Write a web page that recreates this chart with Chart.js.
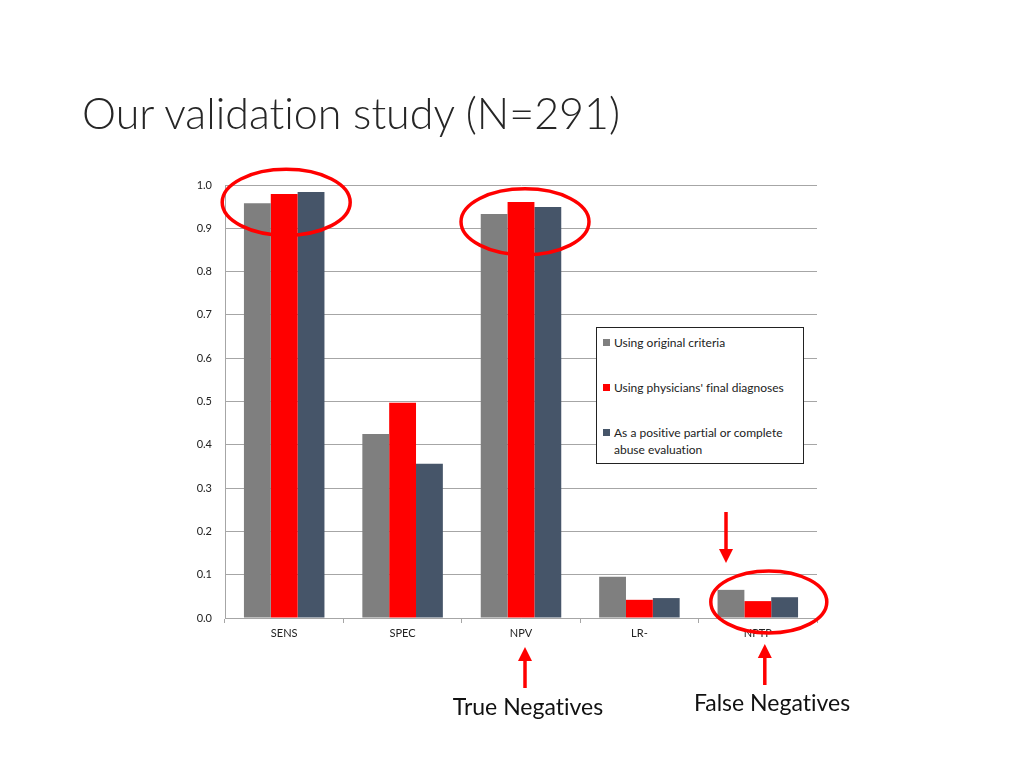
<!DOCTYPE html>
<html>
<head>
<meta charset="utf-8">
<script src="https://cdn.jsdelivr.net/npm/chart.js@4.4.0/dist/chart.umd.min.js"></script>
<style>
  body { margin: 0; background: #fff; font-family: Lato, "Open Sans", sans-serif; font-variant-ligatures: none; }
  #wrap { position: relative; width: 1024px; height: 768px; }
  #title { position: absolute; left: 82px; top: 87px; font-size: 43px; font-weight: 300; color: #262626; white-space: nowrap; }
  #legend { position: absolute; left: 596px; top: 327px; width: 206px; height: 135px; border: 1px solid #222; background: #fff; font-size: 12px; color: #222; }
  .item { position: absolute; left: 6px; right: 2px; padding-left: 11px; line-height: 17px; }
  .sw { position: absolute; left: 0; top: 5px; width: 7px; height: 7px; }
  .cap { position: absolute; font-size: 23px; color: #111; white-space: nowrap; transform: translate(-50%, -50%); }
</style>
</head>
<body>
<div id="wrap">
  <div id="title">Our validation study (N=291)</div>
  <canvas id="c" width="1024" height="768"></canvas>
  <div id="legend"></div>
  <div class="cap" style="left:528px; top:706px;">True Negatives</div>
  <div class="cap" style="left:772px; top:702px;">False Negatives</div>
</div>
<script>
// data
const categories = ["SENS", "SPEC", "NPV", "LR-", "NPTP"];
const seriesNames = ["Using original criteria", "Using physicians' final diagnoses", "As a positive partial or complete abuse evaluation"];
const originalCriteria = [0.958, 0.425, 0.933, 0.095, 0.065];
const physiciansFinal = [0.979, 0.497, 0.961, 0.042, 0.039];
const abuseEvaluation = [0.984, 0.356, 0.949, 0.046, 0.048];
const yTicks = [0.0, 0.1, 0.2, 0.3, 0.4, 0.5, 0.6, 0.7, 0.8, 0.9, 1.0];
const colors = ["#7f7f7f", "#ff0000", "#465569"];

// legend
const legend = document.getElementById("legend");
const legendTops = [6, 51, 96];
seriesNames.forEach((name, i) => {
  const el = document.createElement("div");
  el.className = "item";
  el.style.top = legendTops[i] + "px";
  el.innerHTML = '<span class="sw" style="background:' + colors[i] + '"></span>' + name;
  legend.appendChild(el);
});

// red marks drawn over the chart (ellipses, arrows)
const annotations = {
  id: "annotations",
  afterDraw(chart) {
    const ctx = chart.ctx;
    const x = chart.scales.x, y = chart.scales.y;
    ctx.save();
    ctx.strokeStyle = "#ff0000";
    ctx.fillStyle = "#ff0000";
    ctx.lineWidth = 3.5;
    const ell = (cx, cy, rx, ry) => {
      ctx.beginPath();
      ctx.ellipse(cx, cy, rx, ry, 0, 0, Math.PI * 2);
      ctx.stroke();
    };
    ell(x.getPixelForValue(0) + 2, y.getPixelForValue(0.96), 64, 33);
    ell(x.getPixelForValue(2) + 4, y.getPixelForValue(0.915), 64, 33);
    ell(x.getPixelForValue(4) + 11, y.getPixelForValue(0.037), 58, 31);

    const arrow = (ax, y1, y2) => {
      const dir = y2 > y1 ? 1 : -1;
      ctx.beginPath();
      ctx.moveTo(ax, y1);
      ctx.lineTo(ax, y2 - dir * 12);
      ctx.stroke();
      ctx.beginPath();
      ctx.moveTo(ax, y2);
      ctx.lineTo(ax - 7, y2 - dir * 14);
      ctx.lineTo(ax + 7, y2 - dir * 14);
      ctx.closePath();
      ctx.fill();
    };
    arrow(726, 512, 563);
    arrow(x.getPixelForValue(2) + 4, 688, 647);
    arrow(x.getPixelForValue(4) + 7, 685, 644);
    ctx.restore();
  }
};

new Chart(document.getElementById("c"), {
  type: "bar",
  data: {
    labels: categories,
    datasets: [originalCriteria, physiciansFinal, abuseEvaluation].map((d, i) => ({
      label: seriesNames[i],
      data: d,
      backgroundColor: colors[i],
      borderWidth: 0,
      categoryPercentage: 0.68,
      barPercentage: 1.0
    }))
  },
  options: {
    responsive: false,
    animation: false,
    layout: { padding: { left: 150, right: 207, top: 185, bottom: 120 } },
    plugins: { legend: { display: false }, tooltip: { enabled: false } },
    scales: {
      x: {
        afterFit: s => { s.height = 30; },
        grid: { offset: true, drawOnChartArea: false, tickLength: 5, color: "#a6a6a6" },
        border: { color: "#a6a6a6" },
        ticks: { color: "#222", font: { size: 11, family: "Lato, 'Open Sans', sans-serif" }, padding: 4 }
      },
      y: {
        min: 0, max: 1,
        afterFit: s => { s.width = 75; },
        afterBuildTicks: s => { s.ticks = yTicks.map(v => ({ value: v })); },
        grid: { color: "#a6a6a6", drawTicks: false },
        border: { color: "#a6a6a6" },
        ticks: { color: "#222", font: { size: 11, family: "Lato, 'Open Sans', sans-serif" }, padding: 13,
          callback: v => v.toFixed(1) }
      }
    }
  },
  plugins: [annotations]
});
</script>
</body>
</html>
